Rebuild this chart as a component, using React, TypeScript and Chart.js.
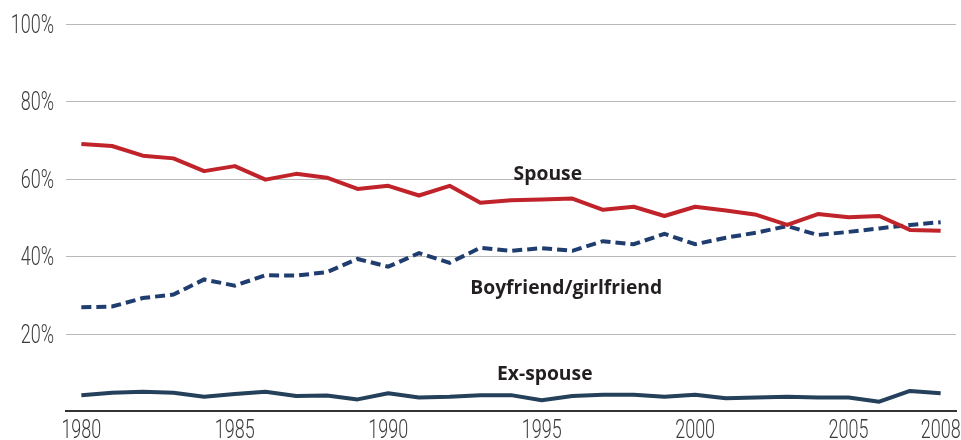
import React, { useEffect, useRef } from "react";
import { Chart, registerables } from "chart.js";

Chart.register(...registerables);

const years = [
  "1980", "1981", "1982", "1983", "1984", "1985", "1986", "1987", "1988", "1989",
  "1990", "1991", "1992", "1993", "1994", "1995", "1996", "1997", "1998", "1999",
  "2000", "2001", "2002", "2003", "2004", "2005", "2006", "2007", "2008",
];

const tickYears = ["1980", "1985", "1990", "1995", "2000", "2005", "2008"];

const spouse = [
  69.1, 68.6, 66.1, 65.4, 62.1, 63.4, 59.9, 61.4, 60.4, 57.5,
  58.3, 55.8, 58.3, 53.9, 54.6, 54.8, 55.0, 52.1, 52.9, 50.5,
  52.9, 51.9, 50.8, 48.2, 51.0, 50.2, 50.5, 46.9, 46.7,
];

const boyfriendGirlfriend = [
  26.9, 27.1, 29.3, 30.2, 34.1, 32.5, 35.2, 35.1, 36.0, 39.4,
  37.4, 40.9, 38.4, 42.3, 41.5, 42.2, 41.5, 44.0, 43.2, 45.9,
  43.2, 44.9, 46.2, 47.9, 45.6, 46.4, 47.3, 48.2, 48.9,
];

const exSpouse = [
  4.2, 4.8, 5.1, 4.8, 3.8, 4.5, 5.1, 4.0, 4.1, 3.1,
  4.7, 3.6, 3.8, 4.2, 4.2, 2.9, 4.0, 4.3, 4.3, 3.8,
  4.3, 3.4, 3.6, 3.8, 3.6, 3.6, 2.5, 5.3, 4.7,
];

const yTicks = [0, 20, 40, 60, 80, 100];

const seriesLabels = [
  { text: "Spouse", year: 1995.2, value: 59.8 },
  { text: "Boyfriend/girlfriend", year: 1995.8, value: 30.3 },
  { text: "Ex-spouse", year: 1995.1, value: 8.1 },
];

const TICK_FONT = '"Roboto", "Liberation Sans", sans-serif';
const LABEL_FONT = '"Open Sans", "Noto Sans", sans-serif';

const labelPlugin = {
  id: "seriesLabels",
  afterDatasetsDraw(chart: any) {
    const { ctx, scales } = chart;
    const first = Number(years[0]);
    ctx.save();
    ctx.font = `bold 19.3px ${LABEL_FONT}`;
    ctx.fillStyle = "#231f20";
    ctx.textAlign = "center";
    ctx.textBaseline = "alphabetic";
    for (const l of seriesLabels) {
      const x = scales.x.getPixelForValue(l.year - first);
      const y = scales.y.getPixelForValue(l.value);
      ctx.fillText(l.text, x, y);
    }
    ctx.restore();
  },
};

// Condensed tick labels (horizontally compressed real text)
const tickPlugin = {
  id: "condensedTicks",
  afterDraw(chart: any) {
    const { ctx, scales } = chart;
    const xs = scales.x;
    const ys = scales.y;
    const squeeze = 0.72;
    ctx.save();
    ctx.font = `300 25px ${TICK_FONT}`;
    ctx.fillStyle = "#3c3c3c";
    ctx.textBaseline = "alphabetic";
    ctx.textAlign = "right";
    for (const v of yTicks) {
      if (v === 0) continue;
      const py = ys.getPixelForValue(v);
      ctx.save();
      ctx.translate(ys.right - 12, py + 8.6);
      ctx.scale(squeeze, 1);
      ctx.fillText(`${v}%`, 0, 0);
      ctx.restore();
    }
    ctx.textAlign = "center";
    for (const t of tickYears) {
      const px = xs.getPixelForValue(years.indexOf(t));
      ctx.save();
      ctx.translate(px, xs.top + 26.8);
      ctx.scale(squeeze, 1);
      ctx.fillText(t, 0, 0);
      ctx.restore();
    }
    ctx.restore();
  },
};

export default function App() {
  const ref = useRef<HTMLCanvasElement | null>(null);

  useEffect(() => {
    document.body.style.margin = "0";
    const canvas = ref.current;
    if (!canvas) return;
    const chart = new Chart(canvas, {
      type: "line",
      data: {
        labels: years,
        datasets: [
          {
            label: "Spouse",
            data: spouse,
            borderColor: "#C1232B",
            borderWidth: 4,
            pointRadius: 0,
            tension: 0,
            borderJoinStyle: "round",
          },
          {
            label: "Boyfriend/girlfriend",
            data: boyfriendGirlfriend,
            borderColor: "#1F3D6E",
            borderWidth: 4,
            borderDash: [10, 5],
            pointRadius: 0,
            tension: 0,
          },
          {
            label: "Ex-spouse",
            data: exSpouse,
            borderColor: "#25405A",
            borderWidth: 4,
            pointRadius: 0,
            tension: 0,
            borderJoinStyle: "round",
          },
        ],
      },
      options: {
        responsive: false,
        animation: false,
        devicePixelRatio: 1,
        layout: { padding: { top: 24.5, right: 5, left: 0, bottom: 0 } },
        plugins: {
          legend: { display: false },
          tooltip: { enabled: false },
        },
        scales: {
          x: {
            type: "category",
            offset: true,
            grid: { display: false, drawTicks: false },
            border: { display: true, color: "#333333", width: 2 },
            ticks: { display: false, autoSkip: false, maxRotation: 0 },
            afterFit: (s: any) => {
              s.height = 28.6;
              s.paddingLeft = 0;
              s.paddingRight = 0;
            },
          },
          y: {
            min: yTicks[0],
            max: yTicks[yTicks.length - 1],
            afterBuildTicks: (s: any) => {
              s.ticks = yTicks.map((v) => ({ value: v }));
            },
            grid: {
              drawTicks: false,
              color: (c: any) => (c.tick && c.tick.value === 0 ? "rgba(0,0,0,0)" : "#b8b8b8"),
              lineWidth: 1,
            },
            border: { display: false },
            ticks: { display: false },
            afterFit: (s: any) => {
              s.width = 66;
            },
          },
        },
      },
      plugins: [labelPlugin, tickPlugin],
    });
    return () => chart.destroy();
  }, []);

  return (
    <div style={{ width: 961, height: 440 }}>
      <canvas ref={ref} width={961} height={440} style={{ display: "block" }} />
    </div>
  );
}
